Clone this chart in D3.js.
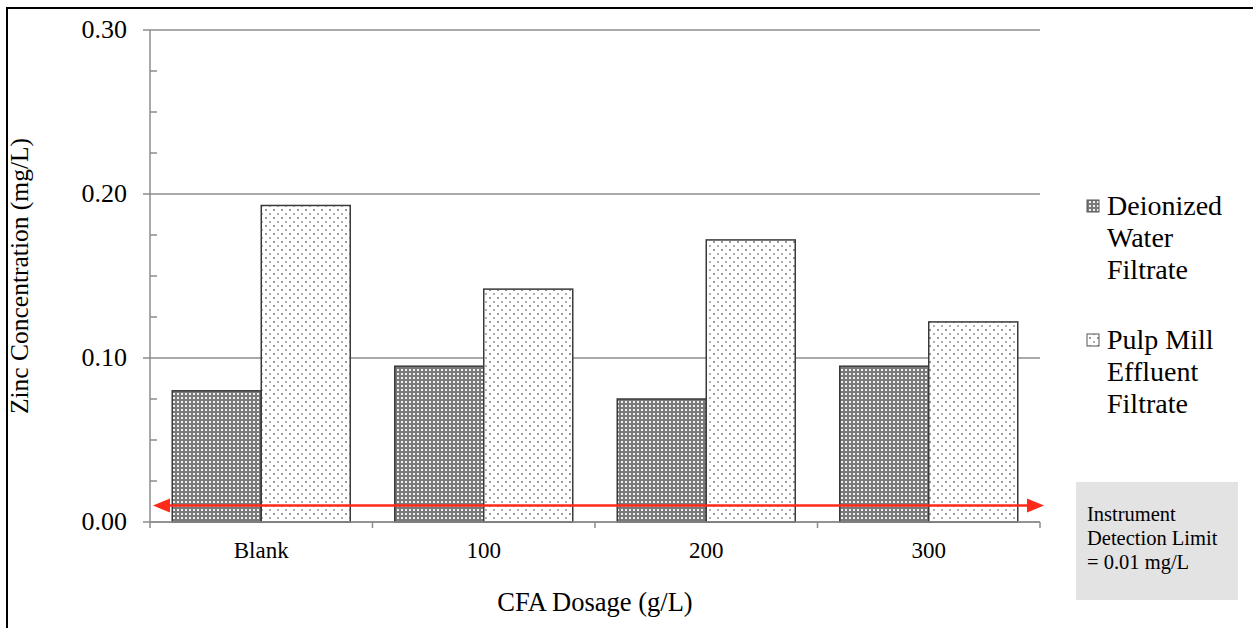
<!DOCTYPE html>
<html><head><meta charset="utf-8">
<script src="https://cdn.jsdelivr.net/npm/d3@7"></script>
<style>body{margin:0;background:#fff}</style>
</head><body>
<svg id="c" width="1253" height="628" font-family="'Liberation Serif', 'Times New Roman', Times, serif"></svg>
<script>
const categories = ["Blank","100","200","300"];
const seriesNames = ["Deionized Water Filtrate","Pulp Mill Effluent Filtrate"];
const deionized = [0.080,0.095,0.075,0.095];
const pulpMill = [0.193,0.142,0.172,0.122];
const yTicks = [0,0.1,0.2,0.3];
const detectionLimit = 0.01;

const FF = "'Liberation Serif', 'Times New Roman', Times, serif";
const svg = d3.select("#c");
const defs = svg.append("defs");
const p1 = defs.append("pattern").attr("id","pDark").attr("patternUnits","userSpaceOnUse").attr("width",4).attr("height",4);
p1.append("rect").attr("width",4).attr("height",4).attr("fill","#7a7a7a");
p1.append("rect").attr("x",1).attr("y",1).attr("width",2).attr("height",2).attr("fill","#f0f0f0");
const p2 = defs.append("pattern").attr("id","pLight").attr("patternUnits","userSpaceOnUse").attr("width",8).attr("height",8);
p2.append("rect").attr("width",8).attr("height",8).attr("fill","#fff");
p2.append("rect").attr("x",1).attr("y",1).attr("width",2).attr("height",2).attr("fill","#9a9a9a");
p2.append("rect").attr("x",5).attr("y",5).attr("width",2).attr("height",2).attr("fill","#b0b0b0");

svg.append("rect").attr("x",7).attr("y",8).attr("width",1260).attr("height",640).attr("fill","none").attr("stroke","#000").attr("stroke-width",2);

const L=150,R=1040,T=30,B=522;
const x0 = d3.scaleBand().domain(categories).range([L,R]).paddingInner(0.2).paddingOuter(0.1);
const x1 = d3.scaleBand().domain([0,1]).range([0,x0.bandwidth()]);
const y = d3.scaleLinear().domain([0,0.3]).range([B,T]);

svg.append("g").selectAll("line").data(yTicks).join("line")
  .attr("x1",143).attr("x2",R).attr("y1",d=>y(d)).attr("y2",d=>y(d))
  .attr("stroke","#8c8c8c").attr("stroke-width",1.5);
const minor = d3.range(0,0.3001,0.025).filter(v=>Math.abs(v*10-Math.round(v*10))>1e-6);
svg.append("g").selectAll("line").data(minor).join("line")
  .attr("x1",L).attr("x2",L+7).attr("y1",d=>y(d)).attr("y2",d=>y(d))
  .attr("stroke","#8c8c8c").attr("stroke-width",1.5);
svg.append("line").attr("x1",L).attr("x2",L).attr("y1",T).attr("y2",B).attr("stroke","#8c8c8c").attr("stroke-width",1.5);
svg.append("g").selectAll("text").data(yTicks).join("text")
  .attr("font-family",FF)
  .attr("x",127).attr("y",d=>y(d)+8).attr("text-anchor","end").attr("font-size",26)
  .text(d=>d3.format(".2f")(d));
svg.append("g").selectAll("line").data(categories.map((c,i)=>L+(R-L)/categories.length*(i+1)).concat([L])).join("line")
  .attr("x1",d=>d).attr("x2",d=>d).attr("y1",B).attr("y2",B+6).attr("stroke","#8c8c8c").attr("stroke-width",1.5);
svg.append("g").selectAll("text").data(categories).join("text")
  .attr("font-family",FF)
  .attr("x",c=>x0(c)+x0.bandwidth()/2).attr("y",558).attr("text-anchor","middle").attr("font-size",23).text(c=>c);

const series=[deionized,pulpMill];
const fills=["url(#pDark)","url(#pLight)"];
series.forEach((vals,si)=>{
  svg.append("g").selectAll("rect").data(vals).join("rect")
    .attr("x",(d,i)=>x0(categories[i])+x1(si)).attr("width",x1.bandwidth())
    .attr("y",d=>y(d)).attr("height",d=>B-y(d))
    .attr("fill",fills[si]).attr("stroke","#3a3a3a").attr("stroke-width",1.5);
});
svg.append("line").attr("x1",L).attr("x2",R).attr("y1",B).attr("y2",B).attr("stroke","#8c8c8c").attr("stroke-width",1.5);

const ay=y(detectionLimit);
svg.append("line").attr("x1",168).attr("x2",1028).attr("y1",ay).attr("y2",ay).attr("stroke","#ff2a1a").attr("stroke-width",2.5);
svg.append("path").attr("d",`M153,${ay} L170,${ay-7} L170,${ay+7} Z`).attr("fill","#ff2a1a");
svg.append("path").attr("d",`M1044,${ay} L1027,${ay-7} L1027,${ay+7} Z`).attr("fill","#ff2a1a");

svg.append("text").attr("font-family",FF).attr("transform","translate(28,276) rotate(-90)").attr("text-anchor","middle").attr("font-size",25.5).text("Zinc Concentration (mg/L)");
svg.append("text").attr("font-family",FF).attr("x",595).attr("y",611).attr("text-anchor","middle").attr("font-size",26.5).text("CFA Dosage (g/L)");

const legLines=[["Deionized","Water","Filtrate"],["Pulp Mill","Effluent","Filtrate"]];
legLines.forEach((lines,i)=>{
  const y0=i===0?215:349;
  svg.append("rect").attr("x",1087).attr("y",y0-15).attr("width",12).attr("height",12)
    .attr("fill",fills[i]).attr("stroke","#555").attr("stroke-width",1);
  lines.forEach((t,j)=>svg.append("text").attr("font-family",FF).attr("x",1107).attr("y",y0+j*32).attr("font-size",28).text(t));
});

svg.append("rect").attr("x",1076).attr("y",482).attr("width",162).attr("height",118).attr("fill","#e3e3e3");
["Instrument","Detection Limit","= 0.01 mg/L"].forEach((t,j)=>
  svg.append("text").attr("font-family",FF).attr("x",1087).attr("y",521+j*24).attr("font-size",20.5).text(t));
</script>
</body></html>
